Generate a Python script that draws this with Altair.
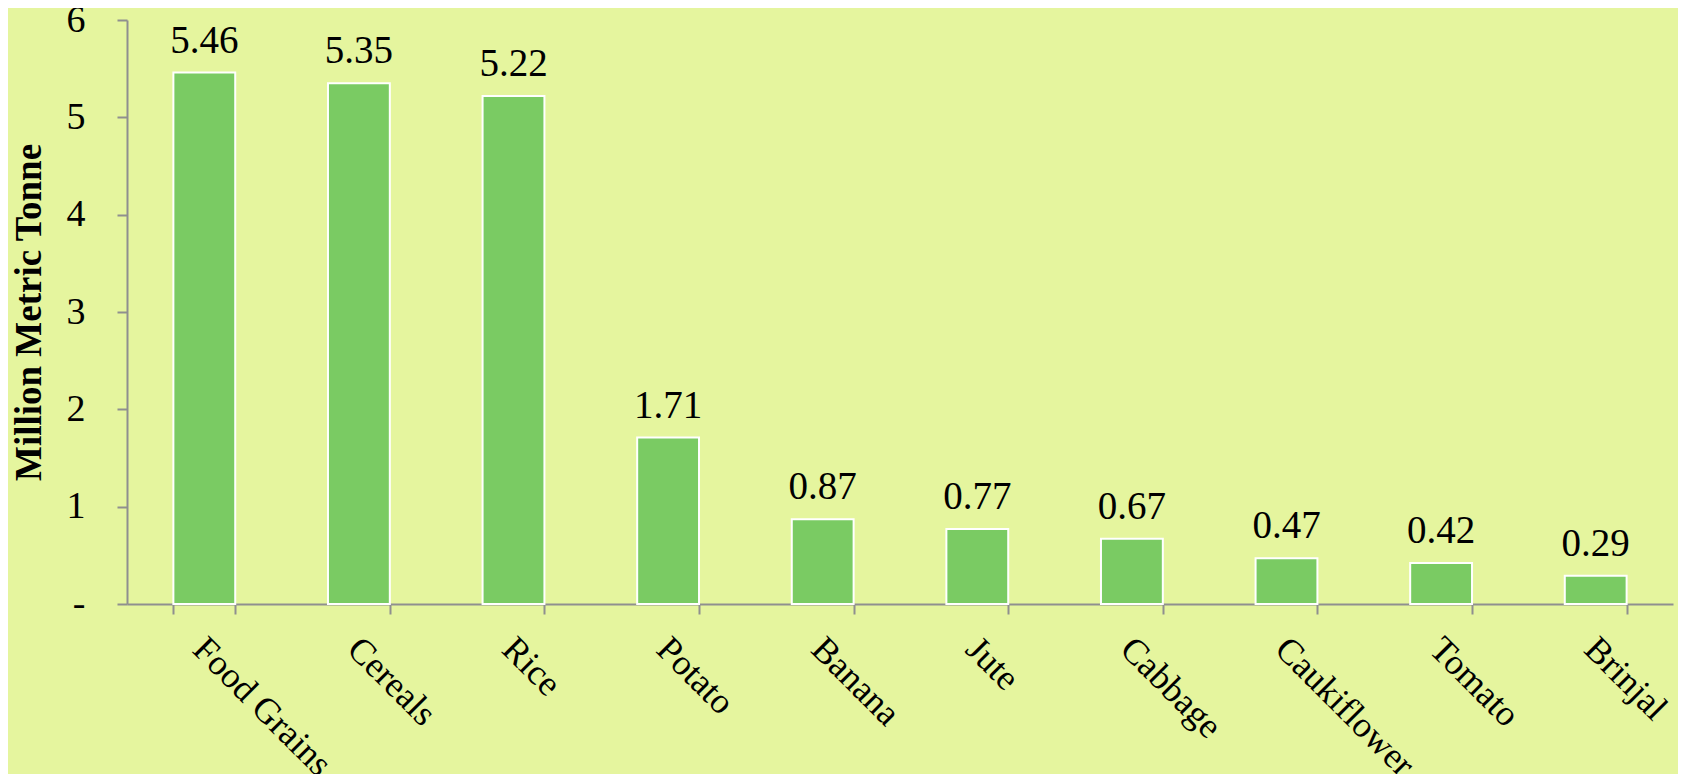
import altair as alt
import pandas as pd

crops = ["Food Grains", "Cereals", "Rice", "Potato", "Banana", "Jute",
         "Cabbage", "Caukiflower", "Tomato", "Brinjal"]
production = [5.46, 5.35, 5.22, 1.71, 0.87, 0.77, 0.67, 0.47, 0.42, 0.29]
y_ticks = [0, 1, 2, 3, 4, 5, 6]

df = pd.DataFrame({"crop": crops, "value": production})
df["label"] = df["value"].map(lambda v: f"{v:.2f}")

FONT = "Liberation Serif"
AXIS_COLOR = "#8f8f8f"

x_enc = alt.X("crop:N", sort=crops, title=None,
              scale=alt.Scale(paddingInner=0.6, paddingOuter=0.3),
              axis=alt.Axis(labelAngle=45, labelAlign="left", labelBaseline="top",
                            labelFont=FONT, labelFontSize=36, labelColor="black",
                            labelPadding=17, labelOffset=6, labelLimit=0,
                            tickBand="extent", tickSize=10,
                            tickColor=AXIS_COLOR, tickWidth=2,
                            domainColor=AXIS_COLOR, domainWidth=2))
y_enc = alt.Y("value:Q", title="Million Metric Tonne",
              scale=alt.Scale(domain=[0, 6], nice=False),
              axis=alt.Axis(values=y_ticks, grid=False, format="d",
                            labelExpr="datum.value == 0 ? '-' : datum.label",
                            labelFont=FONT, labelFontSize=38, labelColor="black",
                            labelPadding=32, tickSize=10, tickColor=AXIS_COLOR,
                            tickWidth=2, domainColor=AXIS_COLOR, domainWidth=2,
                            titleFont=FONT, titleFontSize=37, titleFontWeight="bold",
                            titleColor="black", titleX=-98, titleY=292,
                            titleBaseline="middle", titleAngle=270))

base = alt.Chart(df)

bars = base.mark_bar(color="#7acb63", stroke="white", strokeWidth=2).encode(
    x=x_enc, y=y_enc)

labels = base.mark_text(font=FONT, fontSize=39, color="black",
                        baseline="alphabetic", dy=-20).encode(
    x=alt.X("crop:N", sort=crops), y=alt.Y("value:Q"), text="label:N")

chart = (bars + labels).properties(
    width=1546, height=584,
    background="#e5f59e",
    autosize=alt.AutoSizeParams(type="none"),
    padding={"left": 119, "top": 12, "right": 5, "bottom": 170},
).configure_view(stroke=None)

chart.save("out.html", embed_options={"renderer": "svg", "actions": False})
